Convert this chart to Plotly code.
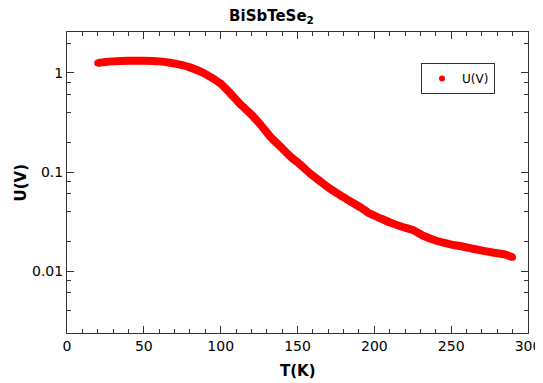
import plotly.graph_objects as go

# Data
T_K = [20, 25, 30, 40, 50, 60, 67, 75, 80, 87, 93, 100, 106, 113, 120, 126, 132,
       139, 145, 152, 158, 165, 171, 178, 184, 191, 197, 204, 210, 218, 225, 232,
       238, 245, 251, 258, 264, 271, 277, 284, 290]
U_V = [1.26, 1.29, 1.31, 1.33, 1.33, 1.31, 1.27, 1.20, 1.14, 1.03, 0.92, 0.78,
       0.63, 0.48, 0.38, 0.30, 0.23, 0.18, 0.145, 0.118, 0.097, 0.080, 0.068,
       0.058, 0.051, 0.044, 0.038, 0.034, 0.031, 0.028, 0.026, 0.0226, 0.0208,
       0.0193, 0.0184, 0.0176, 0.0168, 0.0160, 0.0154, 0.0148, 0.0138]

x_ticks = [0, 50, 100, 150, 200, 250, 300]
y_ticks = [0.01, 0.1, 1]
y_tick_labels = ["0.01", "0.1", "1"]
y_minor = [m * d for d in (0.001, 0.01, 0.1, 1) for m in (2, 4, 6, 8)]

RED = "#ff0000"
AX = "#333333"
FONT = "DejaVu Sans"
# the page body adds an 8px offset, so the figure is drawn 8px smaller
W, H = 535, 375
L, R, TOP, B = 59, 15, 24, 50
PW, PH = W - L - R, H - TOP - B

fig = go.Figure()
fig.add_trace(go.Scatter(x=T_K, y=U_V, mode="lines+markers", showlegend=False,
                         line=dict(color=RED, width=8, shape="spline", smoothing=0.6),
                         marker=dict(color=RED, size=7), hoverinfo="skip"))
# legend entry (small dot, as in the reference)
fig.add_trace(go.Scatter(x=[None], y=[None], mode="markers", name="U(V)",
                         marker=dict(color=RED, size=6)))

fig.update_layout(
    width=W, height=H,
    margin=dict(l=L, r=R, t=TOP, b=B, autoexpand=False),
    paper_bgcolor="white", plot_bgcolor="white",
    font=dict(family=FONT, size=14, color="black"),
    title=dict(text="<b>BiSbTeSe<sub>2</sub></b>", x=263.5 / W, xanchor="center",
               y=1 - 2 / H, yanchor="top", font=dict(family=FONT, size=15)),
    legend=dict(x=(413 - L) / PW, y=(H - B - 55) / PH, xanchor="left", yanchor="top",
                bordercolor=AX, borderwidth=1, bgcolor="white",
                font=dict(family=FONT, size=12)),
    xaxis=dict(
        range=[0, 300], tickmode="array", tickvals=x_ticks, automargin=False,
        ticks="inside", ticklen=7, tickwidth=1, tickcolor=AX,
        showline=True, linecolor=AX, linewidth=1, mirror="allticks",
        showgrid=False, zeroline=False,
        minor=dict(dtick=10, tick0=0, ticks="inside", ticklen=4, tickcolor=AX, showgrid=False),
    ),
    yaxis=dict(
        type="log", range=[-2.626, 0.414], tickmode="array", automargin=False,
        tickvals=y_ticks, ticktext=y_tick_labels,
        ticks="inside", ticklen=7, tickwidth=1, tickcolor=AX,
        showline=True, linecolor=AX, linewidth=1, mirror="allticks",
        showgrid=False, zeroline=False,
        minor=dict(tickmode="array", tickvals=y_minor, ticks="inside", ticklen=4,
                   tickcolor=AX, showgrid=False),
    ),
    annotations=[
        dict(text="<b>T(K)</b>", xref="paper", yref="paper", x=0.5,
             y=-(363 - (H - B)) / PH, xanchor="center", yanchor="middle",
             showarrow=False, font=dict(family=FONT, size=15)),
        dict(text="<b>U(V)</b>", xref="paper", yref="paper", x=-(L - 12) / PW,
             y=0.5, xanchor="center", yanchor="middle", textangle=-90,
             showarrow=False, font=dict(family=FONT, size=15)),
    ],
)

fig.write_html("out.html")
